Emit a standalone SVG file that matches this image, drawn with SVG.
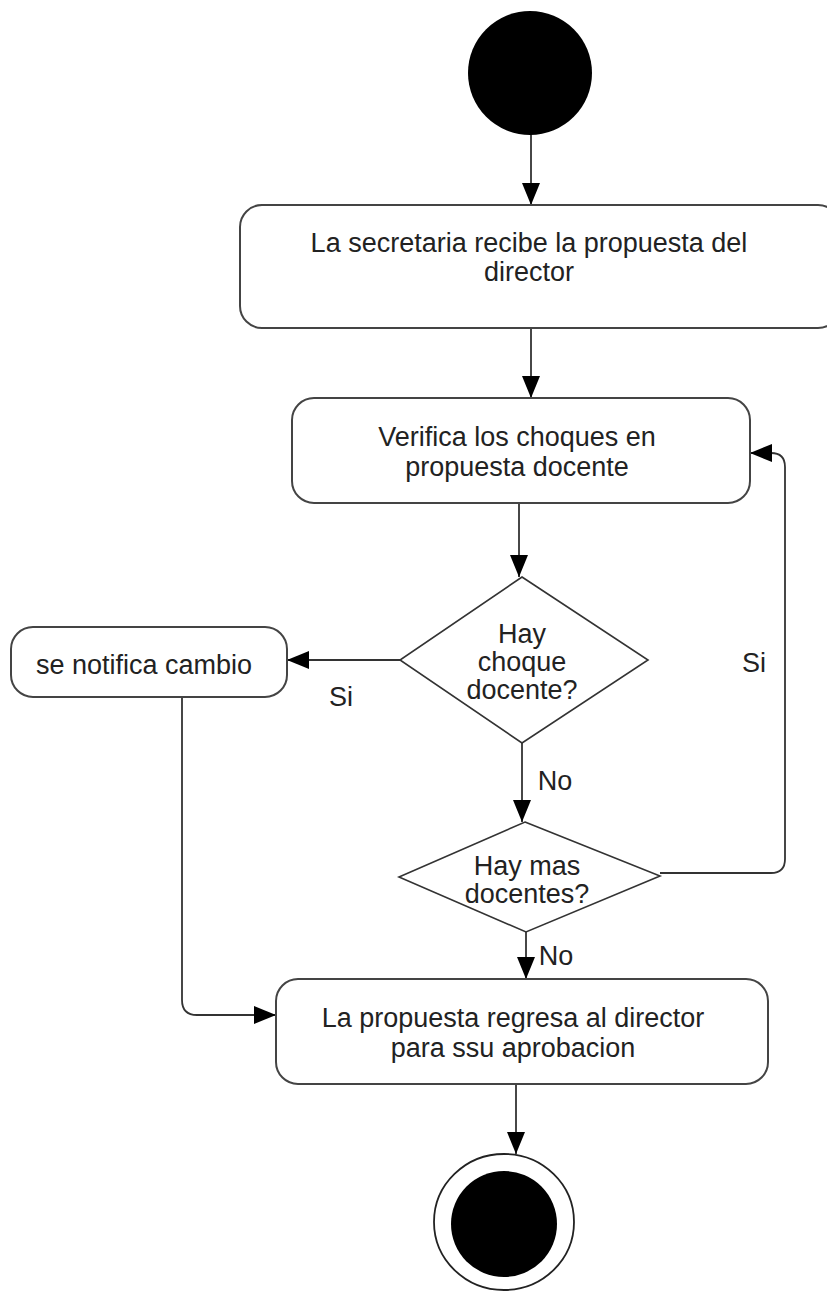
<svg xmlns="http://www.w3.org/2000/svg" width="827" height="1292" viewBox="0 0 827 1292">
<defs>
<marker id="arr" viewBox="0 0 22 18" markerWidth="22" markerHeight="18" refX="22" refY="9" markerUnits="userSpaceOnUse" orient="auto">
<path d="M0,0 L22,9 L0,18 z" fill="#000"/>
</marker>
<style>
.box{fill:#fff;stroke:#444;stroke-width:2}
.dia{fill:#fff;stroke:#333;stroke-width:1.6}
.ln{fill:none;stroke:#333;stroke-width:1.8}
text{font-family:"Liberation Sans",Arial,sans-serif;font-size:27px;fill:#222;text-anchor:middle}
</style>
</defs>
<rect width="827" height="1292" fill="#fff"/>
<g id="connectors">
<path class="ln" d="M531,134 L531,205" marker-end="url(#arr)"/>
<path class="ln" d="M531,329 L531,398" marker-end="url(#arr)"/>
<path class="ln" d="M519,504 L519,577" marker-end="url(#arr)"/>
<path class="ln" d="M400,660 L287,660" marker-end="url(#arr)"/>
<text x="341" y="706">Si</text>
<path class="ln" d="M182,698 L182,1000 Q182,1015 197,1015 L276,1015" marker-end="url(#arr)"/>
<path class="ln" d="M522,743 L522,822" marker-end="url(#arr)"/>
<text x="555" y="790">No</text>
<path class="ln" d="M660,873 L771,873 Q785,873 785,859 L785,467 Q785,453 771,453 L750,453" marker-end="url(#arr)"/>
<text x="754" y="672">Si</text>
<path class="ln" d="M526,932 L526,979" marker-end="url(#arr)"/>
<text x="556" y="965">No</text>
<path class="ln" d="M516,1085 L516,1154" marker-end="url(#arr)"/>
</g>
<g id="start">
<circle cx="530" cy="73" r="62" fill="#000"/>
</g>
<g id="recibe">
<rect class="box" x="240" y="205" width="600" height="123" rx="22"/>
<text x="529" y="252">La secretaria recibe la propuesta del</text>
<text x="529" y="281">director</text>
</g>
<g id="verifica">
<rect class="box" x="292" y="398" width="458" height="105" rx="22"/>
<text x="517" y="446">Verifica los choques en</text>
<text x="517" y="476">propuesta docente</text>
</g>
<g id="choque">
<polygon class="dia" points="522,577 648,660 522,743 400,660"/>
<text x="522" y="643">Hay</text>
<text x="522" y="671">choque</text>
<text x="522" y="699">docente?</text>
</g>
<g id="notifica">
<rect class="box" x="11" y="627" width="276" height="70" rx="22"/>
<text x="144" y="674">se notifica cambio</text>
</g>
<g id="mas">
<polygon class="dia" points="525,822 660,876 526,932 399,877"/>
<text x="527" y="875">Hay mas</text>
<text x="527" y="903">docentes?</text>
</g>
<g id="regresa">
<rect class="box" x="276" y="979" width="492" height="105" rx="22"/>
<text x="513" y="1027">La propuesta regresa al director</text>
<text x="513" y="1057">para ssu aprobacion</text>
</g>
<g id="end">
<ellipse cx="504" cy="1222" rx="70" ry="68" fill="#fff" stroke="#222" stroke-width="1.8"/>
<circle cx="504" cy="1224" r="53" fill="#000"/>
</g>
</svg>
